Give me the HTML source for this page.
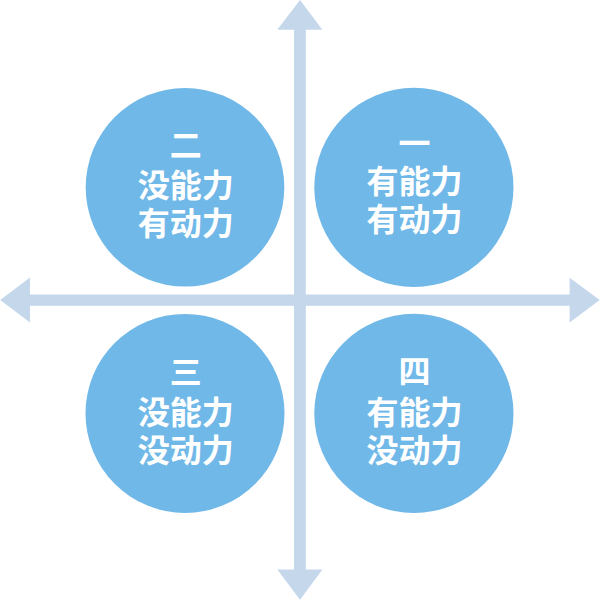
<!DOCTYPE html>
<html lang="zh">
<head>
<meta charset="utf-8">
<title>能力-动力 四象限</title>
<style>
html,body{margin:0;padding:0;background:#ffffff;font-family:"Liberation Sans",sans-serif;}
body{width:600px;height:600px;overflow:hidden;}
svg{display:block;position:absolute;left:0;top:0;}
</style>
</head>
<body>
<svg width="600" height="600" viewBox="0 0 600 600">
<g fill="#c5d7eb">
<rect x="294" y="15" width="11.8" height="570"/>
<rect x="15" y="294.5" width="570" height="11.3"/>
<polygon points="300,0 277.3,29.8 322.4,29.8"/>
<polygon points="300,599.7 277.3,569.6 322.4,569.6"/>
<polygon points="0.2,300 30,277.5 30,322.5"/>
<polygon points="599.7,300 569.6,277.7 569.6,322.5"/>
</g>
<g fill="#70b8e8">
<circle cx="185" cy="187.3" r="99.3"/>
<circle cx="413.9" cy="187.4" r="99.6"/>
<circle cx="185" cy="413.4" r="99.5"/>
<circle cx="413.9" cy="413.4" r="99.6"/>
</g>
<g fill="#ffffff" font-family="&quot;Liberation Sans&quot;, &quot;Noto Sans CJK SC&quot;, sans-serif" font-weight="bold" font-size="32" text-anchor="middle">
<text x="185.7" y="157">二</text>
<text x="185.7" y="197">没能力</text>
<text x="185.7" y="235.3">有动力</text>
<text x="414.4" y="154.5">一</text>
<text x="414.4" y="192.5">有能力</text>
<text x="414.4" y="230.6">有动力</text>
<text x="185.7" y="383.5">三</text>
<text x="185.7" y="423.8">没能力</text>
<text x="185.7" y="462">没动力</text>
<text x="414.4" y="382.6">四</text>
<text x="414.4" y="424">有能力</text>
<text x="414.4" y="462.2">没动力</text>
</g>
</svg>
</body>
</html>
